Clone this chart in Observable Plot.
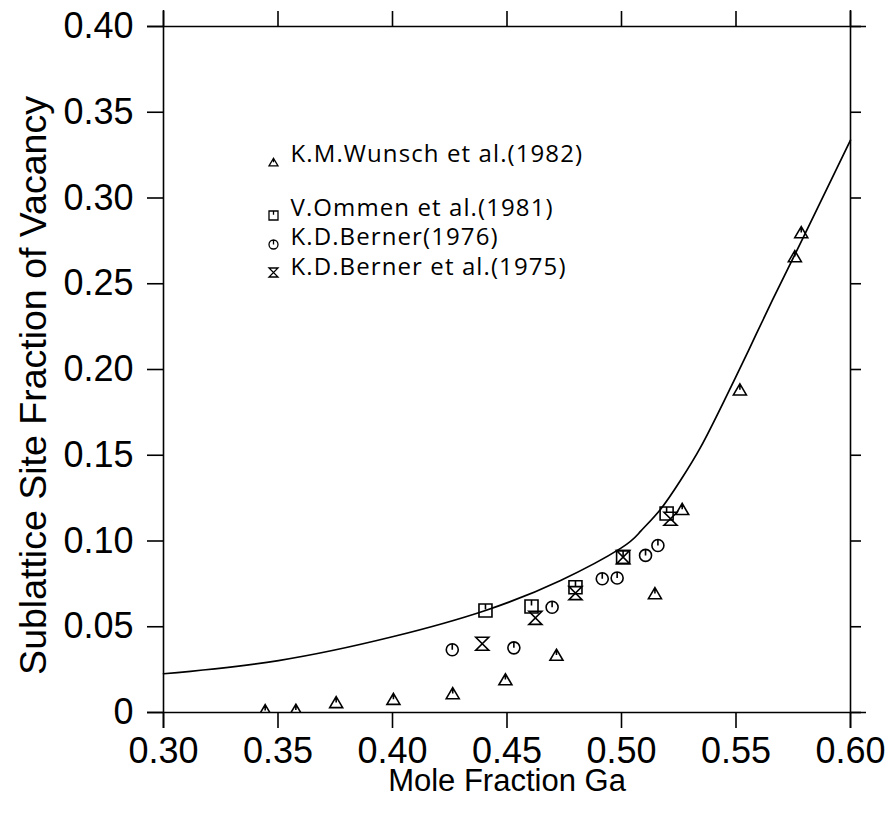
<!DOCTYPE html>
<html><head><meta charset="utf-8">
<script src="https://cdn.jsdelivr.net/npm/d3@7"></script>
<script src="https://cdn.jsdelivr.net/npm/@observablehq/plot@0.6"></script>
<style>html,body{margin:0;padding:0;background:#fff}</style>
</head><body><div id="chart"></div>
<script>
// ---- data ----
const wunschX = [0.3444, 0.3578, 0.3754, 0.4004, 0.4263, 0.4493, 0.4716, 0.5146, 0.5265, 0.5517, 0.5757, 0.5785];
const wunschY = [0.0010, 0.0012, 0.0057, 0.0076, 0.0109, 0.0190, 0.0333, 0.0692, 0.1183, 0.1880, 0.2657, 0.2797];
const ommenX = [0.4406, 0.4607, 0.4799, 0.5007, 0.5197];
const ommenY = [0.0595, 0.0618, 0.0730, 0.0906, 0.1160];
const berner76X = [0.4261, 0.4530, 0.4697, 0.4916, 0.4981, 0.5105, 0.5159];
const berner76Y = [0.0366, 0.0377, 0.0614, 0.0780, 0.0784, 0.0916, 0.0974];
const berner75X = [0.4392, 0.4624, 0.4799, 0.5007, 0.5214];
const berner75Y = [0.0401, 0.0552, 0.0696, 0.0906, 0.1130];
const curveX = [0.3000, 0.3502, 0.4004, 0.4406, 0.4734, 0.4996, 0.5083, 0.5170, 0.5258, 0.5345, 0.5445, 0.5555, 0.5659, 0.5803, 0.6000];
const curveY = [0.0226, 0.0303, 0.0443, 0.0595, 0.0770, 0.0957, 0.1056, 0.1184, 0.1354, 0.1546, 0.1809, 0.2112, 0.2404, 0.2795, 0.3337];
const xTicks = [0.30, 0.35, 0.40, 0.45, 0.50, 0.55, 0.60];
const yTicks = [0, 0.05, 0.10, 0.15, 0.20, 0.25, 0.30, 0.35, 0.40];
const legendLabels = ["K.M.Wunsch et al.(1982)", "V.Ommen et al.(1981)", "K.D.Berner(1976)", "K.D.Berner et al.(1975)"];
const xTitle = "Mole Fraction Ga";
const yTitle = "Sublattice Site Fraction of Vacancy";

// ---- tables ----
const zip = (xs, ys) => xs.map((x, i) => ({x, y: ys[i]}));
const wunsch = zip(wunschX, wunschY);
const ommen = zip(ommenX, ommenY);
const berner76 = zip(berner76X, berner76Y);
const berner75 = zip(berner75X, berner75Y);
const curve = zip(curveX, curveY);

// ---- custom symbols ----
const sym = f => ({draw(c, size) { f(c, Math.sqrt(size / Math.PI)); }});
const triSym = sym((c, s) => { c.moveTo(0, -s * 0.95); c.lineTo(s, s * 0.75); c.lineTo(-s, s * 0.75); c.closePath(); c.moveTo(0, -s * 0.95); c.lineTo(0, -s * 0.05); });
const sqSym = sym((c, s) => { c.moveTo(-s, -s); c.lineTo(s, -s); c.lineTo(s, s); c.lineTo(-s, s); c.closePath(); c.moveTo(0, -s); c.lineTo(0, -s * 0.15); });
const circSym = sym((c, s) => { c.moveTo(s, 0); c.arc(0, 0, s, 0, 2 * Math.PI); c.moveTo(0, -s); c.lineTo(0, 0); });
const hourSym = sym((c, s) => { c.moveTo(-s, -s); c.lineTo(s, -s); c.lineTo(-s, s); c.lineTo(s, s); c.closePath(); });
const symbols = [triSym, sqSym, circSym, hourSym];

const dotStyle = {x: "x", y: "y", r: 6.5, stroke: "black", strokeWidth: 1.6, fill: "none", clip: true};
const FONT = "Liberation Sans, Arial, Helvetica, sans-serif";
const LFONT = "Open Sans, Noto Sans, sans-serif";

// legend layout (pixel offsets from frame top-left)
const legSymDx = 110, legTextDx = 127;
const legSymDy = [136, 189, 218, 246];
const legTextDy = [135, 189, 218, 248];

const legendMarks = legendLabels.flatMap((lab, i) => [
  Plot.dot([lab], {frameAnchor: "top-left", dx: legSymDx, dy: legSymDy[i], symbol: symbols[i], r: 4.5, stroke: "black", strokeWidth: 1.3, fill: "none"}),
  Plot.text([lab], {frameAnchor: "top-left", dx: legTextDx, dy: legTextDy[i], text: d => d, textAnchor: "start", lineAnchor: "bottom", fontSize: 24, fontFamily: LFONT, fill: "black"})
]);

const chart = Plot.plot({
  width: 889,
  height: 827,
  marginLeft: 163,
  marginRight: 39,
  marginTop: 26,
  marginBottom: 115,
  style: {fontFamily: FONT, fontSize: "36px", color: "black", background: "white"},
  x: {domain: [0.30, 0.60]},
  y: {domain: [0, 0.40]},
  marks: [
    Plot.ruleY([0, 0.40], {insetLeft: -16, insetRight: -16, stroke: "black", strokeWidth: 1.6}),
    Plot.ruleX([0.30, 0.60], {insetTop: -16, insetBottom: -16, stroke: "black", strokeWidth: 1.6}),
    Plot.axisX(xTicks, {anchor: "bottom", tickSize: 16, tickPadding: 9, tickFormat: d => d.toFixed(2), fontSize: 36, label: null, strokeWidth: 1.6}),
    Plot.axisX(xTicks, {anchor: "top", tickSize: 16, tickFormat: () => "", label: null, strokeWidth: 1.6}),
    Plot.axisY(yTicks, {anchor: "left", tickSize: 16, tickPadding: 14, tickFormat: d => d === 0 ? "0" : d.toFixed(2), fontSize: 36, label: null, strokeWidth: 1.6}),
    Plot.axisY(yTicks, {anchor: "right", tickSize: 10, tickFormat: () => "", label: null, strokeWidth: 1.6}),
    Plot.line(curve, {x: "x", y: "y", curve: "natural", stroke: "black", strokeWidth: 1.7}),
    Plot.dot(wunsch, {...dotStyle, symbol: triSym}),
    Plot.dot(ommen, {...dotStyle, symbol: sqSym}),
    Plot.dot(berner76, {...dotStyle, symbol: circSym, r: 6}),
    Plot.dot(berner75, {...dotStyle, symbol: hourSym}),
    ...legendMarks,
    Plot.text([xTitle], {frameAnchor: "bottom", dy: 69, text: d => d, textAnchor: "middle", lineAnchor: "middle", fontSize: 31, fontFamily: FONT, fill: "black"}),
    Plot.text([yTitle], {frameAnchor: "left", dx: -130, dy: 16, rotate: -90, text: d => d, textAnchor: "middle", lineAnchor: "middle", fontSize: 37.5, fontFamily: FONT, fill: "black"})
  ]
});
// slight tracking on legend entries to match the reference's wider set
chart.querySelectorAll("text").forEach(t => {
  if (legendLabels.includes(t.textContent)) t.setAttribute("letter-spacing", "1.1");
});
document.getElementById("chart").appendChild(chart);
</script>
</body></html>
